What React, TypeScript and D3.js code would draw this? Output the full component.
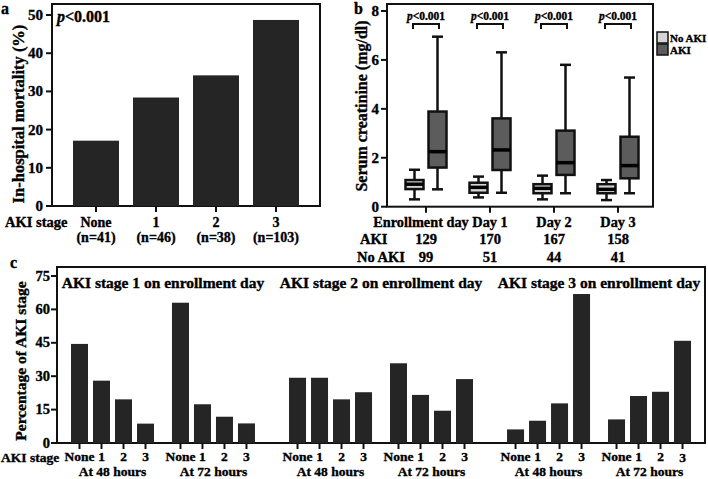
import React from "react";
import * as d3 from "d3";

// ---------- Panel a data ----------
const stagesA = ["None", "1", "2", "3"];
const stageCountsA = ["(n=41)", "(n=46)", "(n=38)", "(n=103)"];
const mortality = [17.1, 28.4, 34.2, 48.7];
const ticksA = [0, 10, 20, 30, 40, 50];

// ---------- Panel b data ----------
const days = ["Enrollment day", "Day 1", "Day 2", "Day 3"];
// [whiskerLow, Q1, median, Q3, whiskerHigh]
const noAkiBoxes = [
  [0.3, 0.72, 0.92, 1.09, 1.51],
  [0.38, 0.57, 0.79, 0.98, 1.23],
  [0.3, 0.55, 0.75, 0.92, 1.27],
  [0.27, 0.55, 0.71, 0.92, 1.09],
];
const akiBoxes = [
  [0.71, 1.6, 2.25, 3.89, 6.95],
  [0.57, 1.5, 2.32, 3.61, 6.31],
  [0.55, 1.3, 1.8, 3.11, 5.8],
  [0.55, 1.16, 1.68, 2.86, 5.28],
];
const akiCounts = [129, 170, 167, 158];
const noAkiCounts = [99, 51, 44, 41];
const pLabels = ["p<0.001", "p<0.001", "p<0.001", "p<0.001"];
const ticksB = [0, 2, 4, 6, 8];

// ---------- Panel c data ----------
const panelTitlesC = [
  "AKI stage 1 on enrollment day",
  "AKI stage 2 on enrollment day",
  "AKI stage 3 on enrollment day",
];
const timeLabels = ["At 48 hours", "At 72 hours"];
const stagesC = ["None", "1", "2", "3"];
// values[time][stage]
const stage1Values = [
  [44.5, 28.0, 19.6, 8.7],
  [63.0, 17.4, 11.8, 8.8],
];
const stage2Values = [
  [29.3, 29.3, 19.6, 22.8],
  [35.8, 21.6, 14.5, 28.7],
];
const stage3Values = [
  [6.1, 10.0, 17.8, 66.9],
  [10.6, 21.1, 23.0, 45.9],
];
const valuesC = [stage1Values, stage2Values, stage3Values];
const ticksC = [0, 15, 30, 45, 60, 75];

const FONT = "'Liberation Serif', 'Times New Roman', serif";
const BAR = "#252525";
const INK = "#111";
const TS = { stroke: "#000", strokeWidth: 0.35 } as const;

export default function App() {
  // ---- Panel a scales ----
  const aL = 52, aR = 320, aT = 4, aB = 206;
  const yA = d3.scaleLinear().domain([0, 50]).range([aB, 15]);
  const xA = d3.scaleBand<string>().domain(stagesA).range([aL, aR]).paddingInner(0.2333).paddingOuter(0.35);

  // ---- Panel b scales ----
  const bL = 387, bR = 653, bT = 4, bB = 206.7;
  const yB = d3.scaleLinear().domain([0, 8]).range([bB, 11]);
  const xB = d3.scalePoint<string>().domain(days).range([426, 618]);
  const boxOff = 11.5, boxW = 18, capW = 9;

  // ---- Panel c scales ----
  const cL = 57, cR = 705, cT = 267, cB = 443;
  const yC = d3.scaleLinear().domain([0, 75]).range([cB, 276]);
  const xUnit = d3.scaleLinear().domain([0, 1]).range([71, 93]);
  const barWC = 17;
  const unitOf = (p: number, s: number, i: number) => {
    const k = p * 8 + s * 4 + i;
    return k + 0.59 * (p + s) + 1.32 * p;
  };

  const renderBox = (vals: number[], cx: number, fill: string, key: string) => {
    const [lo, q1, med, q3, hi] = vals;
    return (
      <g key={key}>
        <line x1={cx} x2={cx} y1={yB(hi)} y2={yB(q3)} stroke={INK} strokeWidth={2.5} />
        <line x1={cx} x2={cx} y1={yB(q1)} y2={yB(lo)} stroke={INK} strokeWidth={2.5} />
        <line x1={cx - capW / 2 - 1} x2={cx + capW / 2 + 1} y1={yB(hi)} y2={yB(hi)} stroke={INK} strokeWidth={2.5} />
        <line x1={cx - capW / 2 - 1} x2={cx + capW / 2 + 1} y1={yB(lo)} y2={yB(lo)} stroke={INK} strokeWidth={2.5} />
        <rect x={cx - boxW / 2} y={yB(q3)} width={boxW} height={yB(q1) - yB(q3)} fill={fill} stroke={INK} strokeWidth={2.5} />
        <line x1={cx - boxW / 2} x2={cx + boxW / 2} y1={yB(med)} y2={yB(med)} stroke="#000" strokeWidth={3.5} />
      </g>
    );
  };

  return (
    <svg
      width={708}
      height={479}
      style={{ position: "absolute", left: 0, top: 0, background: "#fff" }}
      fontFamily={FONT}
      fontWeight="bold"
    >
      <rect x={0} y={0} width={708} height={479} fill="#fff" />

      {/* ================= Panel a ================= */}
      <text x={1} y={14} fontSize={16} {...TS}>a</text>
      <rect x={aL} y={aT} width={aR - aL} height={aB - aT} fill="none" stroke={INK} strokeWidth={2} />
      {stagesA.map((s, i) => (
        <rect key={s} x={xA(s)} y={yA(mortality[i])} width={xA.bandwidth()} height={aB - yA(mortality[i])} fill={BAR} />
      ))}
      {ticksA.map((t) => (
        <g key={t}>
          <line x1={aL - 6} x2={aL} y1={yA(t)} y2={yA(t)} stroke={INK} strokeWidth={2} />
          <text x={aL - 9} y={yA(t) + 5} fontSize={15} textAnchor="end" {...TS}>{t}</text>
        </g>
      ))}
      {stagesA.map((s, i) => {
        const cx = (xA(s) as number) + xA.bandwidth() / 2;
        return (
          <g key={s}>
            <line x1={cx} x2={cx} y1={aB} y2={aB + 6} stroke={INK} strokeWidth={2} />
            <text x={cx} y={227} fontSize={14} textAnchor="middle" {...TS}>{s}</text>
            <text x={cx} y={242} fontSize={14} textAnchor="middle" {...TS}>{stageCountsA[i]}</text>
          </g>
        );
      })}
      <text x={5} y={227} fontSize={14.5} {...TS}>AKI stage</text>
      <text transform="translate(24,114) rotate(-90)" fontSize={16.5} textAnchor="middle" {...TS}>In-hospital mortality (%)</text>
      <text x={57} y={22} fontSize={16} {...TS}>
        <tspan fontStyle="italic">p</tspan>&lt;0.001
      </text>

      {/* ================= Panel b ================= */}
      <text x={354} y={14} fontSize={16} {...TS}>b</text>
      <rect x={bL} y={bT} width={bR - bL} height={bB - bT} fill="none" stroke={INK} strokeWidth={2} />
      {ticksB.map((t) => (
        <g key={t}>
          <line x1={bL - 6} x2={bL} y1={yB(t)} y2={yB(t)} stroke={INK} strokeWidth={2} />
          <text x={bL - 8} y={yB(t) + 5} fontSize={15} textAnchor="end" {...TS}>{t}</text>
        </g>
      ))}
      {days.map((d, i) => {
        const cx = xB(d) as number;
        return (
          <g key={d}>
            {renderBox(noAkiBoxes[i], cx - boxOff, "#d4d4d4", "n" + i)}
            {renderBox(akiBoxes[i], cx + boxOff, "#5c5c5c", "a" + i)}
            <path
              d={`M${cx - 13},29 V24 H${cx + 13} V29`}
              fill="none"
              stroke={INK}
              strokeWidth={2}
            />
            <text x={cx} y={20} fontSize={11.5} textAnchor="middle" {...TS}>
              <tspan fontStyle="italic">{pLabels[i].slice(0, 1)}</tspan>
              {pLabels[i].slice(1)}
            </text>
            <line x1={cx} x2={cx} y1={bB} y2={bB + 6} stroke={INK} strokeWidth={2} />
            <text x={i === 0 ? cx - 5 : cx} y={227} fontSize={14.3} textAnchor="middle" {...TS}>{d}</text>
            <text x={cx} y={244} fontSize={14.5} textAnchor="middle" {...TS}>{akiCounts[i]}</text>
            <text x={cx} y={262} fontSize={14.5} textAnchor="middle" {...TS}>{noAkiCounts[i]}</text>
          </g>
        );
      })}
      <text x={360} y={244} fontSize={14.5} {...TS}>AKI</text>
      <text x={357} y={262} fontSize={14.5} {...TS}>No AKI</text>
      <text transform="translate(367,106) rotate(-90)" fontSize={16} textAnchor="middle" {...TS}>Serum creatinine (mg/dl)</text>
      {/* legend */}
      <rect x={657} y={32} width={11} height={11} fill="#d4d4d4" stroke={INK} strokeWidth={1.5} />
      <rect x={657} y={44} width={11} height={11} fill="#5c5c5c" stroke={INK} strokeWidth={1.5} />
      <text x={670} y={42} fontSize={11} {...TS}>No AKI</text>
      <text x={670} y={54} fontSize={11} {...TS}>AKI</text>

      {/* ================= Panel c ================= */}
      <text x={10} y={268} fontSize={16} {...TS}>c</text>
      <rect x={cL} y={cT} width={cR - cL} height={cB - cT} fill="none" stroke={INK} strokeWidth={2} />
      {ticksC.map((t) => (
        <g key={t}>
          <line x1={cL - 6} x2={cL} y1={yC(t)} y2={yC(t)} stroke={INK} strokeWidth={2} />
          <text x={cL - 7} y={yC(t) + 4.5} fontSize={14.5} textAnchor="end" {...TS}>{t}</text>
        </g>
      ))}
      {valuesC.map((panel, p) => {
        const first = xUnit(unitOf(p, 0, 0));
        const last = xUnit(unitOf(p, 1, 3)) + barWC;
        return (
          <g key={"p" + p}>
            <text x={(first + last) / 2} y={288} fontSize={15.5} textAnchor="middle" {...TS}>{panelTitlesC[p]}</text>
            {panel.map((vals, s) => {
              const g0 = xUnit(unitOf(p, s, 0)) + barWC / 2;
              const g3 = xUnit(unitOf(p, s, 3)) + barWC / 2;
              return (
                <g key={"s" + s}>
                  {vals.map((v, i) => {
                    const x = xUnit(unitOf(p, s, i));
                    const cx = x + barWC / 2;
                    const dy = p === 2 && s === 1 && i === 3 ? 1 : 0;
                    return (
                      <g key={i}>
                        <rect x={x} y={yC(v)} width={barWC} height={cB - yC(v)} fill={BAR} />
                        <line x1={cx} x2={cx} y1={cB} y2={cB + 6} stroke={INK} strokeWidth={2} />
                        <text
                          x={cx}
                          y={461 + dy}
                          fontSize={13.5}
                          textAnchor="middle"
                          {...TS}
                        >
                          {stagesC[i]}
                        </text>
                      </g>
                    );
                  })}
                  <text x={(g0 + g3) / 2} y={476} fontSize={13.5} textAnchor="middle" {...TS}>{timeLabels[s]}</text>
                </g>
              );
            })}
          </g>
        );
      })}
      <text x={1} y={462} fontSize={13.5} {...TS}>AKI stage</text>
      <text transform="translate(26,361) rotate(-90)" fontSize={15.5} textAnchor="middle" {...TS}>Percentage of AKI stage</text>
    </svg>
  );
}
